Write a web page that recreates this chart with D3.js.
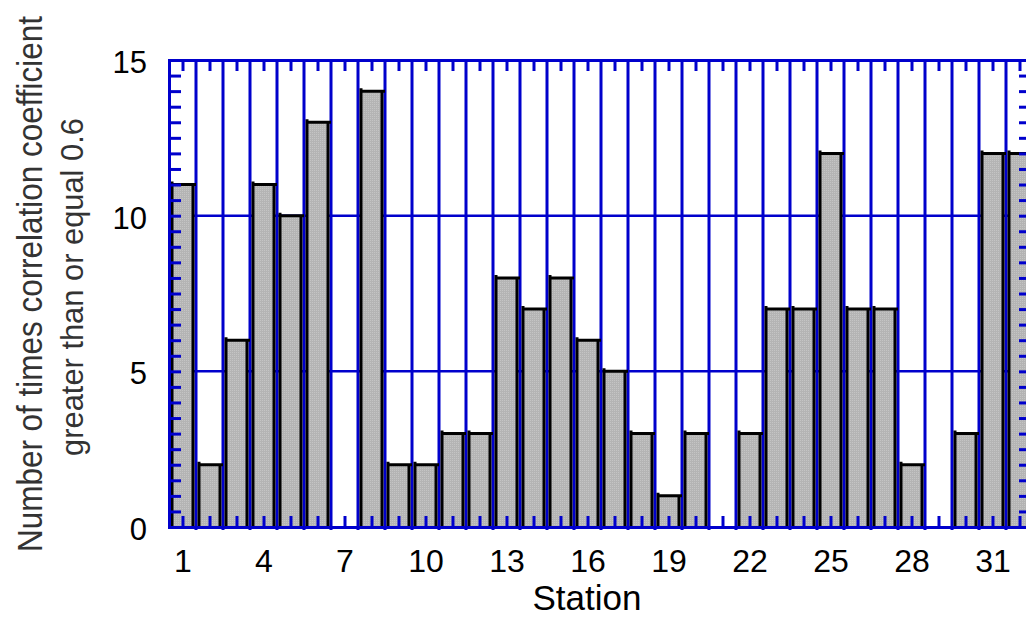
<!DOCTYPE html>
<html>
<head>
<meta charset="utf-8">
<script src="https://cdn.jsdelivr.net/npm/d3@7"></script>
<style>
  body { margin: 0; background: #fff; }
  svg { display: block; font-family: "Liberation Sans", Arial, sans-serif; }
</style>
</head>
<body>
<div id="chart"></div>
<script>
// data
const stations = d3.range(1, 33);
const counts = [11, 2, 6, 11, 10, 13, 0, 14, 2, 2, 3, 3, 8, 7, 8, 6,
                5, 3, 1, 3, 0, 3, 7, 7, 12, 7, 7, 2, 0, 3, 12, 12];
const xTickLabels = [1, 4, 7, 10, 13, 16, 19, 22, 25, 28, 31];
const yTickLabels = [0, 5, 10, 15];
const yGridValues = [5, 10];
const xTitle = "Station";
const yTitle = ["Number of times correlation coefficient", "greater than or equal 0.6"];

const W = 1026, H = 617;
const plot = {left: 169, right: 1033, top: 60, bottom: 527};
const blue = "#0000cc";

const svg = d3.select("#chart").append("svg")
  .attr("width", W).attr("height", H);

const x = d3.scaleLinear().domain([0.5, 32.5]).range([plot.left, plot.right]);
const y = d3.scaleLinear().domain([0, 15]).range([plot.bottom, plot.top]);

const defs = svg.append("defs");
const pat = defs.append("pattern").attr("id", "stipple")
  .attr("width", 2).attr("height", 2).attr("patternUnits", "userSpaceOnUse");
pat.append("rect").attr("width", 2).attr("height", 2).attr("fill", "#b4b4b4");
pat.append("rect").attr("width", 1).attr("height", 1).attr("fill", "#c4c4c4");

// horizontal grid
svg.append("g")
  .selectAll("line").data(yGridValues).join("line")
  .attr("x1", plot.left).attr("x2", plot.right)
  .attr("y1", d => y(d)).attr("y2", d => y(d))
  .attr("stroke", blue).attr("stroke-width", 2.5);

// vertical grid at station boundaries
const bounds = d3.range(1.5, 32.5, 1);
svg.append("g")
  .selectAll("line").data(bounds).join("line")
  .attr("x1", d => x(d)).attr("x2", d => x(d))
  .attr("y1", plot.top).attr("y2", plot.bottom + 3)
  .attr("stroke", blue).attr("stroke-width", 3);

// bars
const bars = svg.append("g");
const data = stations.map((s, i) => ({s: s, v: counts[i]})).filter(d => d.v > 0);
bars.selectAll("rect").data(data).join("rect")
  .attr("x", d => x(d.s - 0.5) + 3)
  .attr("width", d => x(d.s + 0.5) - x(d.s - 0.5) - 6)
  .attr("y", d => y(d.v))
  .attr("height", d => y(0) - y(d.v))
  .attr("fill", "url(#stipple)");
bars.selectAll("path").data(data).join("path")
  .attr("d", d => {
    const l = x(d.s - 0.5) + 3, r = x(d.s + 0.5) - 3, t = y(d.v), b = y(0);
    return `M${l},${b}V${t - 3}M${l},${t}H${r + 3}M${r},${t}V${b}`;
  })
  .attr("fill", "none").attr("stroke", "#000").attr("stroke-width", 3);

// frame axes with minor ticks
const halfSteps = d3.range(0, 15.01, 0.5);
svg.append("g").attr("transform", `translate(${plot.left},0)`)
  .call(d3.axisRight(y).tickValues(halfSteps).tickSize(12).tickFormat(""));
svg.append("g").attr("transform", `translate(${plot.right},0)`)
  .call(d3.axisLeft(y).tickValues(halfSteps).tickSize(14).tickFormat(""));
svg.append("g").attr("transform", `translate(0,${plot.top})`)
  .call(d3.axisBottom(x).tickValues(stations).tickSize(11).tickFormat(""));
svg.append("g").attr("transform", `translate(0,${plot.bottom})`)
  .call(d3.axisTop(x).tickValues(stations).tickSize(11).tickFormat(""));
svg.selectAll(".domain, .tick line")
  .attr("stroke", blue).attr("stroke-width", 3);

// tick labels
svg.append("g")
  .call(d3.axisBottom(x).tickValues(xTickLabels).tickSize(0).tickPadding(0))
  .attr("transform", `translate(0,${plot.bottom})`)
  .call(g => g.select(".domain").remove())
  .selectAll("text").attr("font-size", 32).attr("fill", "#000")
  .attr("y", 45).attr("dy", 0)
  .attr("font-family", "Liberation Sans, Arial, sans-serif");
svg.append("g")
  .call(d3.axisLeft(y).tickValues(yTickLabels).tickSize(0).tickPadding(0))
  .attr("transform", `translate(147,0)`)
  .call(g => g.select(".domain").remove())
  .selectAll("text").attr("font-size", 31).attr("fill", "#000")
  .attr("dy", "0.4em")
  .attr("font-family", "Liberation Sans, Arial, sans-serif");

// titles
svg.append("text")
  .attr("x", 587).attr("y", 610)
  .attr("text-anchor", "middle").attr("font-size", 35)
  .text(xTitle);

// y title: squeezed along its length (condensed look) with a scale transform
function condensedTitle(txt, cx, cy, size, len) {
  const g = svg.append("g")
    .attr("transform", `translate(${cx},${cy}) rotate(-90)`);
  const t = g.append("text")
    .attr("text-anchor", "middle")
    .attr("font-family", "Liberation Sans, Arial, sans-serif")
    .attr("font-size", size).attr("fill", "#333")
    .text(txt);
  const natural = t.node().getComputedTextLength();
  t.attr("transform", `scale(${len / natural},1)`);
}
condensedTitle(yTitle[0], 42, 284, 35, 536);
condensedTitle(yTitle[1], 83, 287, 32, 338);
</script>
</body>
</html>
